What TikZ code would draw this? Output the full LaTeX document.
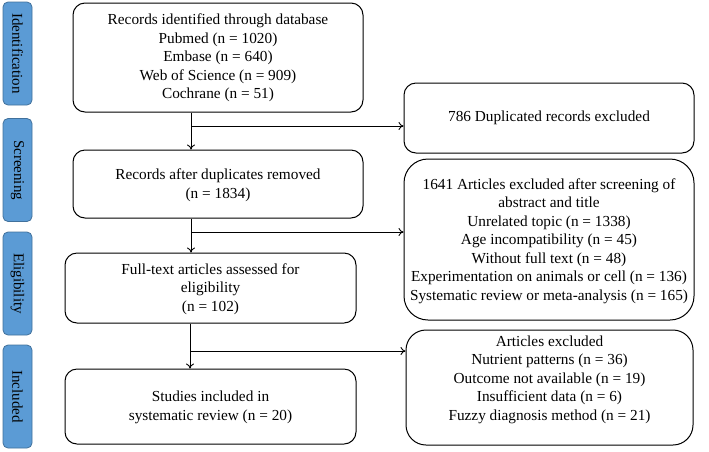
\documentclass[tikz,border=0pt]{standalone}
\usepackage{fontspec}
\setmainfont{Liberation Serif}
\usetikzlibrary{arrows.meta}
\definecolor{barfill}{HTML}{5B9BD5}
\definecolor{barline}{HTML}{41719C}
\begin{document}
\begin{tikzpicture}[x=1pt,y=-1pt,
  txt/.style={font=\fontsize{15.3}{18.5}\selectfont},
  box/.style={draw=black, line width=1pt, rectangle, rounded corners=12pt, align=center, txt, inner sep=0pt},
  bar/.style={draw=barline, fill=barfill, line width=0.8pt, rounded corners=5pt, minimum width=29pt, minimum height=103pt, inner sep=0pt},
  bartext/.style={font=\fontsize{15}{17}\selectfont, rotate=-90},
  arr/.style={line width=0.9pt, -{To[length=5pt,width=8pt]}},
  ln/.style={line width=0.9pt}]
\useasboundingbox (0,0) rectangle (709,451);
% stage bars
\node[bar] (sI) at (17.5,53.5) {};
\node[bartext] at (sI.center) {Identification};
\node[bar] (sS) at (17.5,170) {};
\node[bartext] at (sS.center) {Screening};
\node[bar] (sE) at (17.5,283.5) {};
\node[bartext] at (sE.center) {Eligibility};
\node[bar] (sN) at (17.5,396.5) {};
\node[bartext] at (sN.center) {Included};
% main boxes
\node[box, minimum width=290pt, minimum height=109pt] (b1) at (218,57.5) {};
\node[txt, align=center] at (218,58) {Records identified through database\\Pubmed (n = 1020)\\Embase (n = 640)\\Web of Science (n = 909)\\Cochrane (n = 51)};
\node[box, minimum width=290pt, minimum height=68pt] (b2) at (218,184) {};
\node[txt, align=center] at (218,185) {Records after duplicates removed\\(n = 1834)};
\node[box, minimum width=291pt, minimum height=70pt] (b3) at (210.5,288) {};
\node[txt, align=center] at (210.5,289) {Full-text articles assessed for\\eligibility\\(n = 102)};
\node[box, minimum width=291pt, minimum height=75pt] (b4) at (210.5,406.5) {};
\node[txt, align=center] at (210.5,407.5) {Studies included in\\systematic review (n = 20)};
% right boxes
\node[box, minimum width=290pt, minimum height=70pt] (r1) at (549,118) {};
\node[txt] at (549,118) {786 Duplicated records excluded};
\node[box, rounded corners=24pt, minimum width=290pt, minimum height=161pt] (r2) at (549,239.5) {};
\node[txt, align=center] at (549,241) {1641 Articles excluded after screening of\\abstract and title\\Unrelated topic (n = 1338)\\Age incompatibility (n = 45)\\Without full text (n = 48)\\Experimentation on animals or cell (n = 136)\\Systematic review or meta-analysis (n = 165)};
\node[box, rounded corners=20pt, minimum width=287pt, minimum height=115pt] (r3) at (549.5,387.5) {};
\node[txt, align=center] at (549.5,379.5) {Articles excluded\\Nutrient patterns (n = 36)\\Outcome not available (n = 19)\\Insufficient data (n = 6)\\Fuzzy diagnosis method (n = 21)};
% connectors
\coordinate (j1) at (191,126);
\coordinate (j2) at (191,232);
\coordinate (j3) at (190,351);
\draw[arr] (b1.south -| j1) -- (b2.north -| j1);
\draw[arr] (j1) -- (r1.west |- j1);
\draw[arr] (b2.south -| j2) -- (b3.north -| j2);
\draw[arr] (j2) -- (r2.west |- j2);
\draw[arr] (b3.south -| j3) -- (b4.north -| j3);
\draw[arr] (j3) -- (r3.west |- j3);
\end{tikzpicture}
\end{document}
